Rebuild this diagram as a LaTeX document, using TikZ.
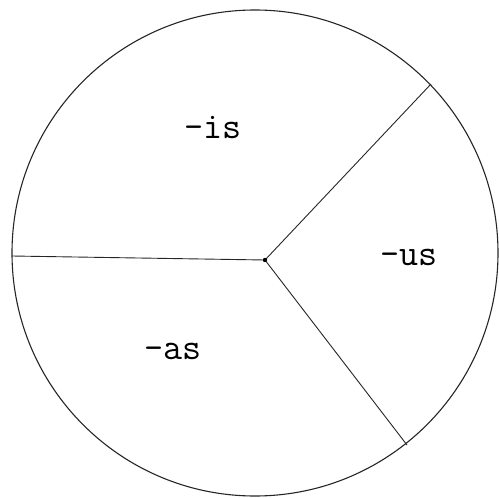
\documentclass[tikz,border=0pt]{standalone}
\usepackage{fontspec}
\begin{document}
\begin{tikzpicture}[x=1pt,y=-1pt,
  rim/.style={draw=black!85,line width=1.1pt},
  divider/.style={draw=black!85,line width=0.9pt},
  lbl/.style={font=\ttfamily\fontsize{37}{37}\selectfont,inner sep=0pt,anchor=center}]
\useasboundingbox (0,0) rectangle (499,498);
\coordinate (o) at (255,253);
\draw[rim] (o) circle [radius=243];
\coordinate (c) at (265,260);
\coordinate (l) at (12,256);
\coordinate (ur) at (431,84);
\coordinate (lr) at (407,445);
\draw[divider] (l) -- (c);
\draw[divider] (c) -- (ur);
\draw[divider] (c) -- (lr);
\fill (c) circle [radius=2.2];
\node[lbl] (is) at (213,127) {-is};
\node[lbl] (us) at (409,257) {-us};
\node[lbl] (as) at (173,351) {-as};
\end{tikzpicture}
\end{document}
